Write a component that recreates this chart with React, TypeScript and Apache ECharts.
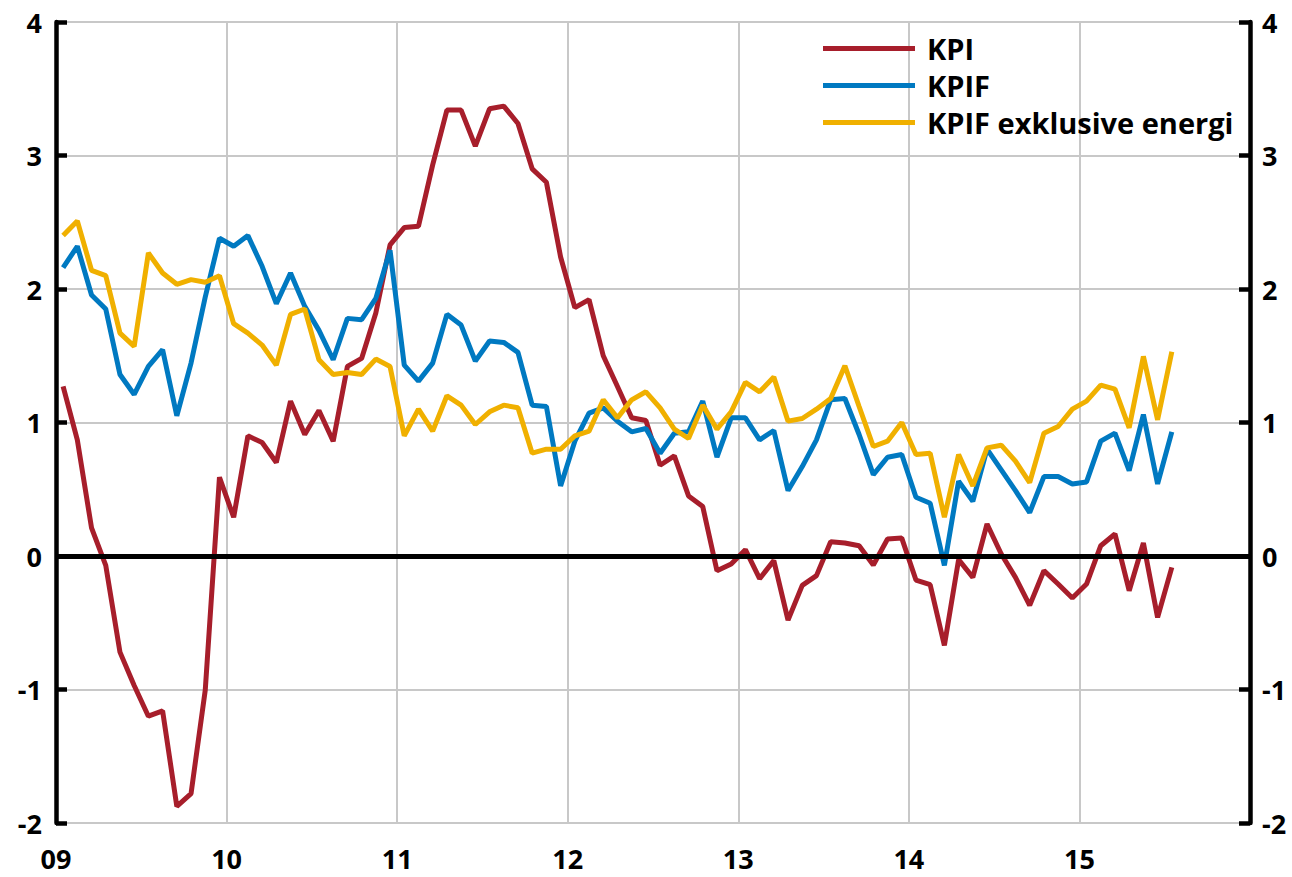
import React, { useEffect, useRef } from 'react';
import * as echarts from 'echarts';

const yearLabels = ['09', '10', '11', '12', '13', '14', '15'];
const monthsOnAxis = 84;

const kpi = [
  1.27, 0.87, 0.21, -0.07, -0.72, -0.97, -1.2, -1.16, -1.875, -1.78, -1.005, 0.59,
  0.29, 0.9, 0.85, 0.7, 1.16, 0.91, 1.09, 0.86, 1.42, 1.48, 1.82, 2.33,
  2.46, 2.47, 2.93, 3.34, 3.34, 3.07, 3.35, 3.37, 3.24, 2.9, 2.8, 2.24,
  1.86, 1.92, 1.5, 1.27, 1.035, 1.015, 0.68, 0.75, 0.45, 0.37, -0.11, -0.06,
  0.047, -0.17, -0.035, -0.48, -0.22, -0.147, 0.107, 0.097, 0.077, -0.067, 0.127, 0.134,
  -0.18, -0.215, -0.67, -0.027, -0.16, 0.24, 0.015, -0.16, -0.37, -0.11, -0.21, -0.315,
  -0.21, 0.077, 0.165, -0.26, 0.097, -0.46, -0.085,
];

const kpif = [
  2.16, 2.32, 1.955, 1.85, 1.36, 1.21, 1.42, 1.545, 1.05, 1.445, 1.94, 2.38,
  2.32, 2.4, 2.17, 1.89, 2.12, 1.87, 1.69, 1.47, 1.78, 1.77, 1.93, 2.29,
  1.43, 1.31, 1.445, 1.81, 1.73, 1.46, 1.61, 1.6, 1.525, 1.13, 1.12, 0.525,
  0.86, 1.07, 1.11, 1.01, 0.93, 0.955, 0.77, 0.92, 0.93, 1.16, 0.74, 1.035,
  1.035, 0.87, 0.94, 0.49, 0.67, 0.87, 1.17, 1.18, 0.91, 0.61, 0.74, 0.76,
  0.44, 0.395, -0.07, 0.56, 0.41, 0.8, 0.645, 0.49, 0.325, 0.595, 0.595, 0.54,
  0.555, 0.86, 0.92, 0.64, 1.06, 0.54, 0.93,
];

const kpifExEnergy = [
  2.4, 2.51, 2.14, 2.1, 1.67, 1.57, 2.27, 2.12, 2.035, 2.07, 2.05, 2.1,
  1.74, 1.67, 1.58, 1.43, 1.81, 1.85, 1.47, 1.36, 1.375, 1.36, 1.475, 1.42,
  0.9, 1.1, 0.935, 1.2, 1.13, 0.985, 1.08, 1.13, 1.11, 0.77, 0.8, 0.8,
  0.9, 0.935, 1.17, 1.035, 1.17, 1.23, 1.11, 0.95, 0.88, 1.13, 0.95, 1.08,
  1.3, 1.23, 1.34, 1.01, 1.03, 1.1, 1.18, 1.425, 1.12, 0.82, 0.86, 1.0,
  0.76, 0.77, 0.29, 0.76, 0.525, 0.81, 0.83, 0.71, 0.55, 0.92, 0.97, 1.1,
  1.16, 1.28, 1.25, 0.96, 1.495, 1.02, 1.53,
];

const seriesNames = ['KPI', 'KPIF', 'KPIF exklusive energi'];
const seriesValues = [kpi, kpif, kpifExEnergy];
const colors = ['#A71E2B', '#0079C1', '#F0B000'];

export default function App() {
  const ref = useRef<HTMLDivElement>(null);

  useEffect(() => {
    if (!ref.current) return;
    const chart = echarts.init(ref.current, null, { renderer: 'svg' });
    const font = '"Open Sans", "Noto Sans", "DejaVu Sans", sans-serif';
    const labelStyle = {
      color: '#000',
      fontSize: 27,
      fontWeight: 'bold' as const,
      fontFamily: font,
    };
    const gridLine = { show: true, lineStyle: { color: '#c8c8c8', width: 2 } };
    const yBase = {
      type: 'value' as const,
      min: -2,
      max: 4,
      interval: 1,
      axisLine: { show: true, lineStyle: { color: '#000', width: 4.5 } },
      axisTick: { show: true, inside: true, length: 11, lineStyle: { color: '#000', width: 4.5 } },
    };

    chart.setOption({
      animation: false,
      backgroundColor: '#fff',
      grid: { left: 56, right: 42, top: 22, bottom: 54, containLabel: false },
      legend: {
        orient: 'vertical',
        left: 823,
        top: 30,
        padding: 0,
        itemWidth: 92,
        itemHeight: 5,
        itemGap: 0,
        icon: 'rect',
        selectedMode: false,
        textStyle: {
          fontSize: 29,
          fontWeight: 'bold',
          color: '#000',
          fontFamily: font,
          lineHeight: 37,
          padding: [0, 0, 0, 7],
        },
        data: seriesNames,
      },
      xAxis: {
        type: 'value',
        min: 0,
        max: monthsOnAxis,
        interval: 12,
        axisLine: { show: false },
        axisTick: { show: false },
        splitLine: gridLine,
        axisLabel: {
          ...labelStyle,
          margin: 22,
          formatter: (v: number) => yearLabels[Math.round(v / 12)] ?? '',
        },
      },
      yAxis: [
        { ...yBase, position: 'left', splitLine: gridLine, axisLabel: { ...labelStyle, margin: 14 } },
        { ...yBase, position: 'right', splitLine: { show: false }, axisLabel: { ...labelStyle, margin: 12 } },
      ],
      series: [
        {
          type: 'line',
          data: [],
          z: 1,
          silent: true,
          markLine: {
            silent: true,
            symbol: 'none',
            label: { show: false },
            lineStyle: { color: '#000', width: 5, type: 'solid' },
            data: [{ yAxis: 0 }],
          },
        },
        ...seriesNames.map((name, k) => ({
          name,
          type: 'line',
          z: 3,
          symbol: 'none',
          color: colors[k],
          lineStyle: { color: colors[k], width: 5 },
          emphasis: { disabled: true },
          data: seriesValues[k].map((v, i) => [i + 0.5, v]),
        })),
      ],
    });

    return () => chart.dispose();
  }, []);

  return (
    <div
      ref={ref}
      style={{ position: 'fixed', left: 0, top: 0, width: 1292, height: 877, background: '#fff' }}
    />
  );
}
